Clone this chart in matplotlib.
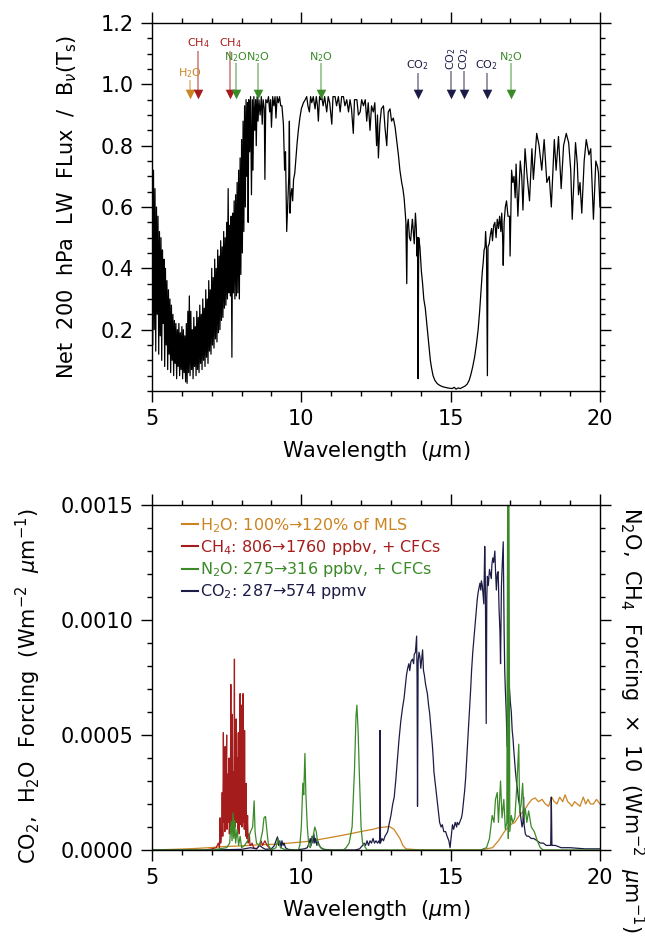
import numpy as np
import matplotlib
matplotlib.use('Agg')
import matplotlib.pyplot as plt
from matplotlib.ticker import MultipleLocator, FixedLocator

plt.rcParams['font.family'] = ['DejaVu Sans']
plt.rcParams['mathtext.fontset'] = 'dejavusans'
plt.rcParams['mathtext.default'] = 'regular'

# ---------------- top panel: net 200 hPa LW flux / B(Ts) ----------------
flux_lam = [
    5.000, 5.025, 5.050, 5.075, 5.100, 5.125, 5.150, 5.175, 5.200, 5.225,
    5.250, 5.275, 5.300, 5.325, 5.350, 5.375, 5.400, 5.425, 5.450, 5.475,
    5.500, 5.525, 5.550, 5.575, 5.600, 5.625, 5.650, 5.675, 5.700, 5.725,
    5.750, 5.775, 5.800, 5.825, 5.850, 5.875, 5.900, 5.925, 5.950, 5.975,
    6.000, 6.025, 6.050, 6.075, 6.100, 6.125, 6.150, 6.175, 6.200, 6.225,
    6.250, 6.275, 6.300, 6.325, 6.350, 6.375, 6.400, 6.425, 6.450, 6.475,
    6.500, 6.525, 6.550, 6.575, 6.600, 6.625, 6.650, 6.675, 6.700, 6.725,
    6.750, 6.775, 6.800, 6.825, 6.850, 6.875, 6.900, 6.925, 6.950, 6.975,
    7.000, 7.025, 7.050, 7.075, 7.100, 7.125, 7.150, 7.175, 7.200, 7.225,
    7.250, 7.275, 7.300, 7.325, 7.350, 7.375, 7.400, 7.425, 7.450, 7.475,
    7.500, 7.525, 7.550, 7.575, 7.600, 7.625, 7.650, 7.675, 7.700, 7.725,
    7.750, 7.775, 7.800, 7.825, 7.850, 7.875, 7.900, 7.925, 7.950, 7.975,
    8.000, 8.025, 8.050, 8.075, 8.100, 8.125, 8.150, 8.175,
    8.20, 8.22, 8.24, 8.27, 8.30, 8.33, 8.36, 8.38, 8.41, 8.44, 8.47, 8.49,
    8.52, 8.55, 8.58, 8.62, 8.66, 8.69, 8.72, 8.76, 8.78, 8.81, 8.86, 8.90,
    8.94, 8.97, 9.00, 9.04, 9.08, 9.12, 9.15, 9.19, 9.23, 9.27, 9.31, 9.35,
    9.40, 9.44, 9.47, 9.51, 9.55, 9.58, 9.60, 9.62, 9.65, 9.68, 9.71, 9.74,
    9.78, 9.82, 9.86, 9.90, 9.95, 10.00, 10.07, 10.13, 10.18,
    10.22, 10.27, 10.31, 10.35, 10.40, 10.46, 10.50, 10.54, 10.57, 10.61,
    10.65, 10.68, 10.73, 10.78, 10.85, 10.90, 10.95, 11.02, 11.06, 11.13,
    11.18, 11.24, 11.30, 11.35, 11.41, 11.46, 11.52, 11.58, 11.63, 11.68,
    11.74, 11.78, 11.86, 11.91, 11.97, 12.02, 12.08, 12.14, 12.19, 12.24,
    12.30, 12.35, 12.41, 12.46, 12.52, 12.55, 12.58, 12.63, 12.68, 12.75,
    12.80, 12.86, 12.91, 12.97, 13.02, 13.08, 13.14, 13.19, 13.25, 13.30,
    13.36, 13.40, 13.44, 13.48, 13.50, 13.53, 13.55, 13.58, 13.62, 13.66,
    13.70, 13.72, 13.75, 13.78, 13.82, 13.85, 13.87, 13.89, 13.91, 13.93,
    13.97, 14.02, 14.06, 14.10, 14.15, 14.19, 14.24, 14.28, 14.32, 14.36,
    14.41, 14.47, 14.55, 14.64, 14.73, 14.81, 14.90, 14.98, 15.05, 15.12,
    15.18, 15.25, 15.32, 15.40, 15.48, 15.55, 15.62, 15.68, 15.74, 15.80,
    15.86, 15.92, 15.97, 16.02, 16.06, 16.09, 16.12, 16.15, 16.17, 16.20,
    16.23, 16.25, 16.29, 16.33, 16.37, 16.40, 16.44, 16.48, 16.52, 16.56,
    16.60, 16.64, 16.68, 16.71, 16.74, 16.76, 16.79, 16.83, 16.87, 16.92,
    16.97, 16.99, 17.04, 17.08, 17.12, 17.16, 17.19, 17.25, 17.33, 17.38,
    17.42, 17.49, 17.56, 17.64, 17.72, 17.77, 17.88, 17.96, 18.05, 18.13,
    18.22, 18.30, 18.37, 18.47, 18.53, 18.61, 18.70, 18.78, 18.87, 18.95,
    19.02, 19.07, 19.18, 19.24, 19.28, 19.33, 19.39, 19.47, 19.54, 19.63,
    19.69, 19.78, 19.86, 19.92, 19.95, 20.00]
flux_val = [
    0.81, 0.15, 0.72, 0.20, 0.66, 0.13, 0.60, 0.25, 0.57, 0.12,
    0.52, 0.18, 0.50, 0.10, 0.46, 0.22, 0.43, 0.08, 0.40, 0.15,
    0.36, 0.07, 0.33, 0.12, 0.30, 0.06, 0.28, 0.10, 0.25, 0.05,
    0.23, 0.09, 0.22, 0.04, 0.20, 0.08, 0.22, 0.05, 0.19, 0.07,
    0.21, 0.04, 0.20, 0.06, 0.18, 0.03, 0.22, 0.025, 0.26, 0.06,
    0.31, 0.05, 0.26, 0.07, 0.20, 0.04, 0.24, 0.08, 0.21, 0.05,
    0.26, 0.07, 0.24, 0.06, 0.28, 0.09, 0.25, 0.07, 0.30, 0.10,
    0.27, 0.08, 0.33, 0.11, 0.30, 0.09, 0.36, 0.13, 0.33, 0.12,
    0.40, 0.15, 0.37, 0.14, 0.43, 0.17, 0.40, 0.16, 0.46, 0.19,
    0.44, 0.20, 0.49, 0.23, 0.47, 0.24, 0.52, 0.27, 0.50, 0.28,
    0.55, 0.30, 0.66, 0.32, 0.54, 0.31, 0.57, 0.11, 0.58, 0.32,
    0.62, 0.30, 0.64, 0.31, 0.68, 0.32, 0.72, 0.30, 0.76, 0.38,
    0.82, 0.45, 0.88, 0.52, 0.93, 0.60, 0.95, 0.70,
    0.94, 0.55, 0.95, 0.78, 0.96, 0.64, 0.95, 0.72, 0.96, 0.85, 0.95, 0.80,
    0.96, 0.88, 0.95, 0.90, 0.96, 0.87, 0.95, 0.92, 0.69, 0.95, 0.94, 0.96,
    0.91, 0.95, 0.86, 0.96, 0.93, 0.96, 0.89, 0.96, 0.94, 0.96, 0.93, 0.93,
    0.87, 0.72, 0.78, 0.52, 0.62, 0.70, 0.88, 0.58, 0.64, 0.66, 0.62, 0.69,
    0.71, 0.76, 0.81, 0.85, 0.89, 0.92, 0.94, 0.95, 0.96,
    0.93, 0.91, 0.96, 0.94, 0.96, 0.92, 0.96, 0.93, 0.88, 0.96,
    0.95, 0.96, 0.93, 0.96, 0.91, 0.96, 0.94, 0.87, 0.96, 0.96,
    0.93, 0.96, 0.91, 0.96, 0.96, 0.93, 0.95, 0.91, 0.95, 0.92,
    0.84, 0.95, 0.95, 0.90, 0.91, 0.95, 0.93, 0.95, 0.88, 0.94,
    0.85, 0.93, 0.91, 0.94, 0.80, 0.90, 0.76, 0.87, 0.92, 0.93,
    0.86, 0.80, 0.91, 0.92, 0.88, 0.89, 0.86, 0.82, 0.77, 0.72,
    0.68, 0.66, 0.63, 0.58, 0.55, 0.35, 0.54, 0.56, 0.50, 0.49,
    0.54, 0.56, 0.52, 0.48, 0.58, 0.53, 0.44, 0.50, 0.04, 0.50,
    0.47, 0.39, 0.35, 0.30, 0.27, 0.23, 0.18, 0.14, 0.10, 0.075,
    0.05, 0.035, 0.024, 0.018, 0.014, 0.012, 0.010, 0.009, 0.008, 0.012,
    0.006, 0.010, 0.008, 0.012, 0.016, 0.022, 0.035, 0.055, 0.08, 0.11,
    0.15, 0.20, 0.26, 0.33, 0.39, 0.42, 0.46, 0.47, 0.52, 0.46,
    0.05, 0.47, 0.48, 0.51, 0.53, 0.49, 0.54, 0.55, 0.50, 0.56,
    0.53, 0.57, 0.52, 0.58, 0.50, 0.41, 0.55, 0.60, 0.62, 0.57,
    0.57, 0.44, 0.72, 0.68, 0.70, 0.63, 0.74, 0.57, 0.75, 0.70,
    0.59, 0.79, 0.70, 0.62, 0.79, 0.69, 0.84, 0.80, 0.72, 0.82,
    0.68, 0.70, 0.60, 0.82, 0.72, 0.83, 0.66, 0.80, 0.84, 0.81,
    0.72, 0.56, 0.81, 0.74, 0.64, 0.68, 0.58, 0.75, 0.82, 0.77,
    0.79, 0.56, 0.75, 0.73, 0.71, 0.60]

# absorption band markers
band_gas = ['H2O', 'CH4', 'CH4', 'N2O', 'N2O', 'N2O', 'CO2', 'CO2', 'CO2', 'CO2', 'N2O']
band_lam = [6.27, 6.55, 7.61, 7.80, 8.56, 10.66, 13.89, 15.01, 15.44, 16.20, 17.02]

# ---------------- bottom panel: spectral forcing ----------------
h2o_lam = [5.0, 5.5, 6.0, 6.5, 6.9, 7.4, 8.0, 8.5, 9.1, 9.6, 10.2, 10.7, 11.3, 11.8,
           12.1, 12.4, 12.6, 12.8, 12.95, 13.1, 13.2, 13.3, 13.4, 13.5, 14.0, 15.0,
           16.0, 16.4, 16.6, 16.8, 17.0, 17.15, 17.3, 17.45, 17.6, 17.72, 17.83,
           17.94, 18.06, 18.17, 18.28, 18.38, 18.47, 18.56, 18.65, 18.75, 18.83,
           18.92, 19.0, 19.06, 19.15, 19.24, 19.33, 19.44, 19.52, 19.6, 19.68,
           19.78, 19.88, 20.0]
h2o_frc = [0.0, 0.000002, 0.000004, 0.000007, 0.00001, 0.000015, 0.000018, 0.000022,
           0.000025, 0.00003, 0.000037, 0.000048, 0.000062, 0.000075, 0.000083,
           0.00009, 0.000097, 0.0001, 0.000102, 0.00009, 0.00007, 0.00005, 0.00002,
           0.000005, 0.0, 0.0, 0.0, 0.00001, 0.00004, 0.00008, 0.00011, 0.00012,
           0.00015, 0.00017, 0.0002, 0.00022, 0.000226, 0.00021, 0.00022, 0.0002,
           0.00019, 0.00023, 0.00021, 0.0002, 0.00023, 0.00021, 0.00024, 0.00021,
           0.0002, 0.00019, 0.00021, 0.0002, 0.00019, 0.00023, 0.0002, 0.00022,
           0.0002, 0.0002, 0.00022, 0.0002]

ch4_lam = [6.80, 7.00, 7.15, 7.22, 7.26, 7.28, 7.30, 7.33, 7.35, 7.37, 7.39, 7.41,
           7.42, 7.44, 7.45, 7.47, 7.48, 7.50, 7.51, 7.53, 7.55, 7.56, 7.58, 7.59,
           7.61, 7.62, 7.64, 7.65, 7.66, 7.68, 7.69, 7.70, 7.71, 7.73, 7.74, 7.76,
           7.77, 7.78, 7.79, 7.80, 7.82, 7.83, 7.84, 7.86, 7.87, 7.89, 7.90, 7.92,
           7.93, 7.95, 7.96, 7.97, 7.99, 8.00, 8.01, 8.02, 8.04, 8.05, 8.06, 8.07,
           8.09, 8.10, 8.11, 8.13, 8.14, 8.15, 8.17, 8.18, 8.20, 8.22, 8.23, 8.26,
           8.28, 8.30, 8.35, 8.40, 8.50, 8.60, 8.65, 8.70, 8.78, 8.85, 9.00]
ch4_frc = [0.0, 0.000005, 0.00001, 0.00003, 0.00001, 0.00014, 0.00003, 0.00008,
           0.00025, 0.00006, 0.00051, 0.00012, 0.00029, 0.00008, 0.00045, 0.00010,
           0.00026, 0.00050, 0.00009, 0.00033, 0.00012, 0.00020, 0.00040, 0.00007,
           0.00022, 0.00010, 0.00072, 0.00015, 0.00040, 0.00008, 0.00059, 0.00012,
           0.00015, 0.00034, 0.00006, 0.00083, 0.00020, 0.00056, 0.00010, 0.00026,
           0.00057, 0.00012, 0.00013, 0.00040, 0.00009, 0.00051, 0.00014, 0.00007,
           0.00045, 0.00068, 0.00011, 0.00029, 0.00016, 0.00063, 0.00010, 0.00033,
           0.00015, 0.00068, 0.00012, 0.00040, 0.00009, 0.00052, 0.00011, 0.00015,
           0.00006, 0.00029, 0.00005, 0.00007, 0.00015, 0.00003, 0.00004, 0.00007,
           0.00002, 0.00002, 0.00003, 0.00001, 0.000005, 0.00002, 0.00004, 0.00002,
           0.00004, 0.00002, 0.0]

n2o_lam = [5.0, 7.0, 7.5, 7.6, 7.65, 7.68, 7.71, 7.74, 7.77, 7.80, 7.85, 7.90, 7.95,
           8.00, 8.10, 8.20, 8.30, 8.37, 8.42, 8.45, 8.50, 8.60, 8.70, 8.75, 8.80,
           8.85, 8.90, 9.00, 9.15, 9.22, 9.30, 9.50, 9.90, 9.95, 10.00, 10.05, 10.08,
           10.12, 10.15, 10.20, 10.25, 10.30, 10.38, 10.45, 10.50, 10.55, 10.65,
           10.80, 11.40, 11.50, 11.60, 11.70, 11.78, 11.83, 11.86, 11.90, 11.95,
           12.00, 12.05, 12.20, 15.50, 16.00, 16.20, 16.30, 16.39, 16.45, 16.50,
           16.56, 16.60, 16.67, 16.72, 16.78, 16.83, 16.88, 16.91, 16.93, 16.95,
           16.98, 17.03, 17.08, 17.15, 17.22, 17.28, 17.31, 17.36, 17.41, 17.46,
           17.50, 17.55, 17.61, 17.70, 17.80, 17.90, 18.00, 18.10, 20.00]
n2o_frc = [0.0, 0.0, 0.00001, 0.00003, 0.000125, 0.00004, 0.00016, 0.00005, 0.00013,
           0.00003, 0.00009, 0.00002, 0.00006, 0.00001, 0.00002, 0.00004, 0.00008,
           0.0001, 0.000214, 0.00008, 0.00003, 0.00002, 0.00008, 0.00014, 0.000146,
           0.00008, 0.00002, 0.0, 0.00001, 0.00005, 0.00001, 0.0, 0.0, 0.00002,
           0.0001, 0.00029, 0.00024, 0.00042, 0.00025, 0.0001, 0.00002, 0.00001,
           0.00005, 0.0001, 0.00008, 0.00003, 0.00001, 0.0, 0.0, 0.00001, 0.00003,
           0.0001, 0.00035, 0.00058, 0.00063, 0.00052, 0.0003, 0.0001, 0.00003, 0.0,
           0.0, 0.0, 0.00001, 0.00005, 0.00015, 0.00012, 0.00022, 0.00025, 0.00012,
           0.0003, 0.00014, 0.00022, 0.00009, 0.00012, 0.0016, 0.00005, 0.0016,
           0.00008, 0.00015, 0.00012, 0.00014, 0.00029, 0.00046, 0.00016, 0.0002,
           0.00029, 0.00014, 0.00018, 0.00012, 0.00017, 0.0001, 0.00008, 0.00004,
           0.00001, 0.0, 0.0]

co2_lam = [5.0, 7.0, 8.0, 8.3, 8.5, 8.6, 8.7, 8.8, 9.0, 9.1, 9.15, 9.2, 9.24, 9.28,
           9.32, 9.35, 9.39, 9.42, 9.47, 9.55, 9.8, 10.1, 10.2, 10.26, 10.3, 10.33,
           10.36, 10.39, 10.42, 10.45, 10.48, 10.52, 10.55, 10.6, 10.65, 10.75, 11.0,
           11.8, 11.95, 12.05, 12.1, 12.15, 12.2, 12.25, 12.3, 12.35, 12.4, 12.45,
           12.5, 12.55, 12.6, 12.62, 12.635, 12.65, 12.7, 12.75, 12.8, 12.85, 12.89,
           12.95, 13.0, 13.06, 13.11, 13.16, 13.22, 13.27, 13.33, 13.39, 13.44, 13.48,
           13.52, 13.56, 13.6, 13.63, 13.67, 13.72, 13.76, 13.78, 13.82, 13.86,
           13.875, 13.89, 13.91, 13.94, 13.97, 14.0, 14.03, 14.06, 14.09, 14.12,
           14.16, 14.19, 14.22, 14.26, 14.3, 14.34, 14.39, 14.42, 14.44, 14.5, 14.56,
           14.6, 14.63, 14.68, 14.72, 14.77, 14.83, 14.88, 14.94, 14.98, 15.02,
           15.06, 15.1, 15.15, 15.2, 15.22, 15.27, 15.33, 15.36, 15.39, 15.43, 15.47,
           15.5, 15.54, 15.58, 15.61, 15.64, 15.67, 15.7, 15.74, 15.78, 15.82, 15.86,
           15.89, 15.92, 15.95, 15.98, 16.01, 16.03, 16.06, 16.09, 16.11, 16.13,
           16.14, 16.16, 16.19, 16.21, 16.23, 16.26, 16.3, 16.33, 16.36, 16.38,
           16.41, 16.44, 16.48, 16.5, 16.53, 16.56, 16.59, 16.62, 16.65, 16.67,
           16.7, 16.72, 16.76, 16.79, 16.81, 16.83, 16.86, 16.89, 16.92, 16.94,
           16.97, 17.0, 17.03, 17.06, 17.09, 17.11, 17.14, 17.17, 17.2, 17.24,
           17.27, 17.3, 17.34, 17.39, 17.42, 17.44, 17.46, 17.5, 17.55, 17.61, 17.7,
           17.78, 17.9, 18.0, 18.1, 18.2, 18.3, 18.35, 18.37, 18.39, 18.5, 18.7,
           19.0, 19.5, 20.0]
co2_frc = [0.0, 0.0, 0.000003, 0.00001, 0.000005, 0.00002, 0.00001, 0.000003,
           0.000005, 0.00002, 0.00004, 0.000057, 0.00002, 0.00004, 0.00001, 0.00004,
           0.00002, 0.00003, 0.00001, 0.000003, 0.0, 0.000005, 0.00001, 0.00003,
           0.00005, 0.00002, 0.00006, 0.00003, 0.00007, 0.00003, 0.00005, 0.00002,
           0.00004, 0.00002, 0.00001, 0.000003, 0.0, 0.0, 0.000005, 0.00002, 0.00003,
           0.00002, 0.00004, 0.00002, 0.00004, 0.00003, 0.00005, 0.00003, 0.00004,
           0.00003, 0.00004, 0.00003, 0.00052, 0.00003, 0.00005, 0.00004, 0.00006,
           0.00007, 0.00008, 0.00012, 0.00015, 0.0002, 0.00023, 0.0003, 0.0004,
           0.00048, 0.00056, 0.00062, 0.00066, 0.00071, 0.00076, 0.00079, 0.00081,
           0.00078, 0.00082, 0.00083, 0.00081, 0.00085, 0.00086, 0.00093, 0.00075,
           0.00019, 0.00082, 0.00086, 0.00084, 0.00079, 0.00083, 0.00087, 0.00078,
           0.00076, 0.00072, 0.0007, 0.00068, 0.00063, 0.00059, 0.00053, 0.00045,
           0.00039, 0.00034, 0.00027, 0.0002, 0.00015, 0.00012, 0.0001, 0.00011,
           0.00008, 0.00008, 0.00006, 0.00004, 0.00001, 0.00006, 0.00011, 0.00009,
           0.00012, 0.0001, 0.00012, 0.00011, 0.00013, 0.00014, 0.00016, 0.00021,
           0.00026, 0.00031, 0.0004, 0.00049, 0.00055, 0.00062, 0.0007, 0.00078,
           0.00086, 0.00092, 0.00098, 0.00104, 0.00109, 0.00112, 0.00114, 0.00116,
           0.00113, 0.00117, 0.00115, 0.0011, 0.00107, 0.00122, 0.00132, 0.00118,
           0.00055, 0.0011, 0.00119, 0.00115, 0.00122, 0.0012, 0.00118, 0.00124,
           0.00127, 0.00125, 0.0013, 0.00122, 0.00113, 0.0012, 0.00121, 0.00105,
           0.00095, 0.00081, 0.00115, 0.00122, 0.00134, 0.00095, 0.00078, 0.0007,
           0.0006, 0.00045, 0.0006, 0.00078, 0.0007, 0.00064, 0.0006, 0.00052,
           0.00048, 0.00044, 0.00039, 0.00034, 0.0003, 0.00026, 0.00022, 0.0002,
           0.00015, 0.0001, 0.00012, 0.00023, 0.00011, 0.00007, 0.00006, 0.00006,
           0.00005, 0.00005, 0.00004, 0.00003, 0.00003, 0.00002, 0.00002, 0.00002,
           0.00023, 0.00002, 0.00002, 0.00001, 0.00001, 0.000005, 0.000005]

legend_labels = ['H$_2$O: 100%\u2192120% of MLS',
                 'CH$_4$: 806\u21921760 ppbv, + CFCs',
                 'N$_2$O: 275\u2192316 ppbv, + CFCs',
                 'CO$_2$: 287\u2192574 ppmv']

x_ticks = [5, 10, 15, 20]
top_yticks = [0.2, 0.4, 0.6, 0.8, 1.0, 1.2]
bot_yticks = [0.0, 0.0005, 0.0010, 0.0015]

# ---------------- styling ----------------
COL = {'H2O': '#CC8422', 'CH4': '#A51C1C', 'N2O': '#3A8A28', 'CO2': '#1C1C46'}
GASLBL = {'H2O': 'H$_2$O', 'CH4': 'CH$_4$', 'N2O': 'N$_2$O', 'CO2': 'CO$_2$'}
MU = '$\\mathit{\\mu}$'
FS = 15

fig = plt.figure(figsize=(6.45, 9.47), dpi=100)
W, H = 645.0, 947.0
ax1 = fig.add_axes([152 / W, 1 - 391 / H, 448 / W, 368 / H])
ax2 = fig.add_axes([152 / W, 1 - 850 / H, 448 / W, 345 / H])


def style(ax):
    for s in ax.spines.values():
        s.set_linewidth(1.0)
    ax.tick_params(which='both', direction='out', top=True, right=True,
                   width=1.0, labelsize=FS, pad=5, colors='black')
    ax.tick_params(which='major', length=8)
    ax.tick_params(which='minor', length=3.8)
    ax.xaxis.set_major_locator(FixedLocator(x_ticks))
    ax.xaxis.set_minor_locator(MultipleLocator(1))
    ax.set_xticklabels([str(t) for t in x_ticks])
    ax.set_xlim(5, 20)
    ax.set_xlabel('Wavelength  (' + MU + 'm)', fontsize=FS, labelpad=7)


# top panel
ax1.plot(flux_lam, flux_val, color='black', lw=0.9)
style(ax1)
ax1.set_ylim(0, 1.2)
ax1.yaxis.set_major_locator(FixedLocator(top_yticks))
ax1.set_yticklabels(['%.1f' % t for t in top_yticks])
ax1.yaxis.set_minor_locator(MultipleLocator(0.05))
ax1.set_ylabel('Net  200  hPa  LW  FLux  /  B$_{\\mathit{\\nu}}$(T$_s$)', fontsize=FS)
ax1.yaxis.set_label_coords(-0.163, 0.5)

head_top, head_tip = 0.982, 0.955
line_top = {'H2O': 1.015, 'CH4': 1.108, 'N2O': 1.068, 'CO2': 1.037}
lab_y = {'H2O': 1.037, 'CH4': 1.133, 'N2O': 1.088, 'CO2': 1.062}
for gas, lam in zip(band_gas, band_lam):
    c = COL[gas]
    vertical = gas == 'CO2' and 14.5 < lam < 15.8
    top = 1.042 if vertical else line_top[gas]
    ax1.vlines(lam, head_top, top, color=c, lw=1.2, alpha=0.55)
    ax1.scatter([lam], [(head_top + head_tip) / 2], marker='v', s=48,
                color=c, linewidths=0, zorder=5)
    if vertical:
        ax1.text(lam, 1.046, GASLBL[gas], color=c, fontsize=8, rotation=90,
                 ha='center', va='bottom')
    else:
        ax1.text(lam, lab_y[gas], GASLBL[gas], color=c, fontsize=8,
                 ha='center', va='center')

# bottom panel
l_h2o, = ax2.plot(h2o_lam, h2o_frc, color=COL['H2O'], lw=0.9)
l_ch4, = ax2.plot(ch4_lam, ch4_frc, color=COL['CH4'], lw=0.9)
l_co2, = ax2.plot(co2_lam, co2_frc, color=COL['CO2'], lw=0.9)
l_n2o, = ax2.plot(n2o_lam, n2o_frc, color=COL['N2O'], lw=0.9)
style(ax2)
ax2.set_ylim(0, 0.0015)
ax2.yaxis.set_major_locator(FixedLocator(bot_yticks))
ax2.set_yticklabels(['%.4f' % t for t in bot_yticks])
ax2.yaxis.set_minor_locator(MultipleLocator(0.0001))
ax2.set_ylabel('CO$_2$,  H$_2$O  Forcing  (Wm$^{-2}$  ' + MU + 'm$^{-1}$)', fontsize=FS)
ax2.yaxis.set_label_coords(-0.243, 0.475)
ax2.text(1.071, 0.377,
         'N$_2$O,  CH$_4$  Forcing  \u00d7  10  (Wm$^{-2}$  ' + MU + 'm$^{-1}$)',
         transform=ax2.transAxes, rotation=270, ha='center', va='center',
         fontsize=FS)

leg = ax2.legend([l_h2o, l_ch4, l_n2o, l_co2], legend_labels, loc='upper left',
                 bbox_to_anchor=(0.067, 0.968), frameon=False, fontsize=11.5,
                 handlelength=1.0, handletextpad=0.1, labelspacing=0.2,
                 borderpad=0, borderaxespad=0, labelcolor='linecolor')
for h in leg.legend_handles:
    h.set_linewidth(1.5)

fig.savefig('out.png', dpi=100)
